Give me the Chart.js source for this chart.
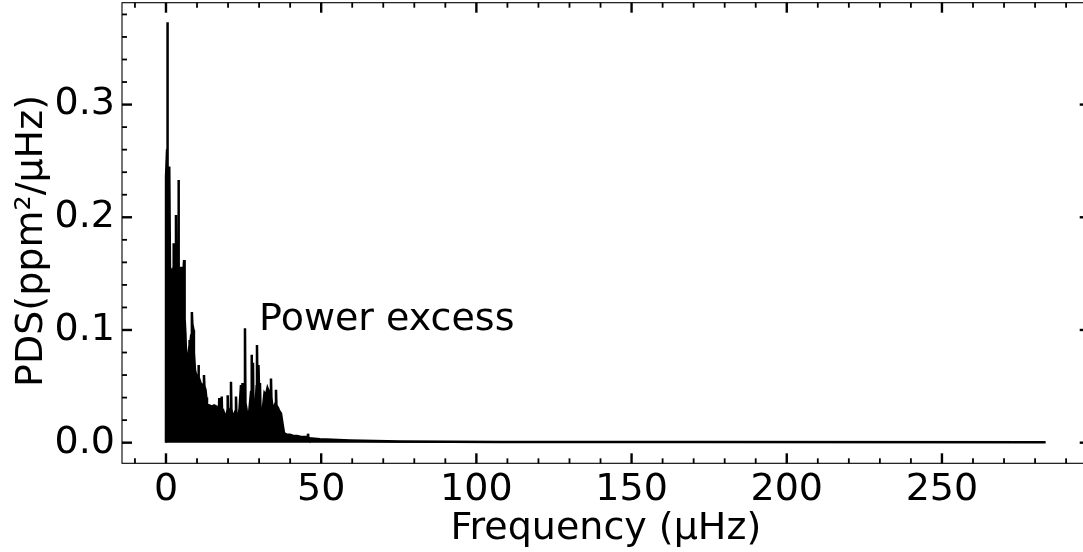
<!DOCTYPE html>
<html>
<head>
<meta charset="utf-8">
<script src="https://cdn.jsdelivr.net/npm/chart.js@4/dist/chart.umd.min.js"></script>
<style>
  html, body { margin: 0; padding: 0; background: #fff; overflow: hidden; }
  #wrap { width: 1083px; height: 552px; overflow: hidden; position: relative; }
  canvas { display: block; }
</style>
</head>
<body>
<div id="wrap"><canvas id="c" width="1092" height="552"></canvas></div>
<script>
// Frequencies (µHz) of the read-off spectrum envelope points
const freq = [
  0.00, 0.02, 0.25, 0.35, 0.42, 0.50, 0.62, 0.95, 1.05, 1.20,
  1.30, 1.55, 1.70, 1.95, 2.30, 2.42, 2.55, 2.80, 3.10, 3.22,
  3.35, 3.65, 3.92, 4.03, 4.15, 4.35, 4.55, 4.75, 4.85, 4.98,
  5.25, 5.55, 5.75, 5.85, 6.00, 6.25, 6.45, 6.80, 7.20, 7.50,
  7.60, 7.75, 8.10, 8.30, 8.38, 8.50, 8.86, 9.00, 9.34, 9.70,
  9.99, 10.35, 10.47, 10.60, 11.11, 11.76, 12.10, 12.24, 12.38, 12.73,
  13.00, 13.21, 14.00, 14.82, 15.50, 16.27, 16.75, 17.05, 17.17, 17.30,
  17.56, 17.85, 17.94, 18.05, 18.36, 19.00, 19.33, 19.75, 19.88, 20.00,
  20.30, 20.80, 20.94, 21.08, 21.42, 21.91, 22.40, 22.55, 22.70, 23.20,
  23.70, 24.16, 24.40, 24.65, 24.80, 24.97, 25.30, 25.45, 25.60, 25.93,
  26.42, 26.90, 27.40, 27.55, 27.70, 28.03, 28.15, 28.51, 28.90, 29.20,
  29.32, 29.45, 29.80, 30.00, 30.28, 30.45, 30.77, 31.20, 31.73, 32.20,
  32.70, 33.20, 33.70, 33.83, 33.96, 34.47, 35.00, 35.30, 35.44, 35.58,
  36.08, 36.50, 37.05, 37.53, 38.02, 39.00, 39.95, 41.00, 42.20, 43.50,
  44.78, 45.60, 45.75, 45.90, 46.07, 49.61, 59.28, 75.39, 107.6, 172.0,
  283.4
];
// Power density (ppm^2/µHz) at those frequencies
const pds = [
  0.000, 0.236, 0.236, 0.260, 0.373, 0.260, 0.235, 0.230, 0.245, 0.245,
  0.150, 0.150, 0.152, 0.140, 0.145, 0.177, 0.145, 0.140, 0.145, 0.202,
  0.145, 0.140, 0.150, 0.233, 0.150, 0.098, 0.110, 0.140, 0.156, 0.140,
  0.150, 0.140, 0.158, 0.162, 0.110, 0.097, 0.080, 0.075, 0.078, 0.085,
  0.091, 0.085, 0.095, 0.105, 0.116, 0.105, 0.100, 0.080, 0.0645, 0.060,
  0.0586, 0.060, 0.069, 0.058, 0.053, 0.050, 0.052, 0.060, 0.050, 0.047,
  0.040, 0.0335, 0.033, 0.032, 0.033, 0.032, 0.026, 0.028, 0.0395, 0.028,
  0.026, 0.030, 0.041, 0.030, 0.029, 0.024, 0.0216, 0.028, 0.042, 0.028,
  0.022, 0.030, 0.054, 0.030, 0.022, 0.025, 0.028, 0.041, 0.026, 0.020,
  0.030, 0.051, 0.040, 0.053, 0.030, 0.020, 0.035, 0.1015, 0.035, 0.030,
  0.017, 0.030, 0.045, 0.078, 0.045, 0.071, 0.040, 0.017, 0.035, 0.050,
  0.0867, 0.050, 0.069, 0.045, 0.053, 0.030, 0.017, 0.030, 0.044, 0.042,
  0.0485, 0.045, 0.040, 0.057, 0.040, 0.027, 0.033, 0.035, 0.047, 0.033,
  0.031, 0.028, 0.026, 0.017, 0.0086, 0.007, 0.007, 0.006, 0.006, 0.005,
  0.005, 0.005, 0.008, 0.005, 0.004, 0.003, 0.002, 0.001, 0.0007, 0.0005,
  0.0003
];
const xTickValues = [0, 50, 100, 150, 200, 250];
const yTickValues = [0.0, 0.1, 0.2, 0.3];
const xMinorStep = 10;
const yMinorStep = 0.02;
const xTitle = 'Frequency (µHz)';
const yTitle = 'PDS(ppm²/µHz)';
const annotationText = 'Power excess';
const annotationAt = [30, 0.1];

const FONT = 'DejaVu Sans';

const frameTicks = {
  id: 'frameTicks',
  afterDatasetsDraw(chart) {
    const {ctx, chartArea: a, scales: {x, y}} = chart;
    ctx.save();
    ctx.fillStyle = '#000';
    ctx.font = '38px "' + FONT + '"';
    ctx.textAlign = 'left';
    ctx.textBaseline = 'alphabetic';
    ctx.fillText(annotationText, x.getPixelForValue(annotationAt[0]), y.getPixelForValue(annotationAt[1]));
    // y-axis title (rotated), centred slightly below the plot centre as in the reference
    ctx.save();
    ctx.translate(41.5, (a.top + a.bottom) / 2 + 8);
    ctx.rotate(-Math.PI / 2);
    ctx.textAlign = 'center';
    ctx.textBaseline = 'alphabetic';
    ctx.fillText(yTitle, 0, 0);
    ctx.restore();
    ctx.strokeStyle = '#000';
    ctx.lineWidth = 1.1;
    ctx.strokeRect(a.left, a.top, a.right - a.left, a.bottom - a.top);
    const tick = (x1, y1, x2, y2, w) => {
      ctx.lineWidth = w;
      ctx.beginPath(); ctx.moveTo(x1, y1); ctx.lineTo(x2, y2); ctx.stroke();
    };
    const MAJ = 10, MIN = 5, WMAJ = 2.4, WMIN = 1.8;
    for (let v = Math.ceil(x.min / xMinorStep) * xMinorStep; v <= x.max; v += xMinorStep) {
      const px = x.getPixelForValue(v);
      const major = xTickValues.some(t => Math.abs(t - v) < 1e-9);
      const L = major ? MAJ : MIN, W = major ? WMAJ : WMIN;
      tick(px, a.bottom, px, a.bottom - L, W);
      tick(px, a.top, px, a.top + L, W);
    }
    for (let k = Math.ceil(y.min / yMinorStep); k * yMinorStep <= y.max; k++) {
      const v = k * yMinorStep;
      const py = y.getPixelForValue(v);
      const major = yTickValues.some(t => Math.abs(t - v) < 1e-9);
      const L = major ? MAJ : MIN, W = major ? WMAJ : WMIN;
      tick(a.left, py, a.left + L, py, W);
      tick(a.right, py, a.right - L, py, W);
    }
    ctx.restore();
  }
};

new Chart(document.getElementById('c'), {
  type: 'line',
  data: {
    datasets: [{
      data: freq.map((f, i) => ({x: f, y: pds[i]})),
      borderColor: '#000',
      backgroundColor: '#000',
      borderWidth: 2.5,
      pointRadius: 0,
      tension: 0,
      fill: 'origin'
    }]
  },
  options: {
    responsive: false,
    animation: false,
    layout: {padding: {top: 2.7, right: 2.3, left: 0, bottom: 0}},
    plugins: {legend: {display: false}, tooltip: {enabled: false}},
    scales: {
      x: {
        type: 'linear', min: -14.17, max: 297.6,
        grid: {display: false, drawTicks: false},
        border: {display: false},
        afterBuildTicks: s => { s.ticks = xTickValues.map(v => ({value: v})); },
        afterFit: s => { s.height = 88.7; s.paddingLeft = 0; s.paddingRight = 0; },
        ticks: {font: {family: FONT, size: 38}, color: '#000', padding: 4, maxRotation: 0, autoSkip: false,
                callback: v => String(v)},
        title: {display: true, text: xTitle, font: {family: FONT, size: 38}, color: '#000',
                padding: {top: 0, bottom: 0}}
      },
      y: {
        type: 'linear', min: -0.0183, max: 0.3904,
        grid: {display: false, drawTicks: false},
        border: {display: false},
        afterBuildTicks: s => { s.ticks = yTickValues.map(v => ({value: v})); },
        afterFit: s => { s.width = 122; s.paddingTop = 0; s.paddingBottom = 0; },
        ticks: {font: {family: FONT, size: 38}, color: '#000', padding: 7, autoSkip: false,
                callback: v => v.toFixed(1)},
        title: {display: false}
      }
    }
  },
  plugins: [frameTicks]
});
</script>
</body>
</html>
